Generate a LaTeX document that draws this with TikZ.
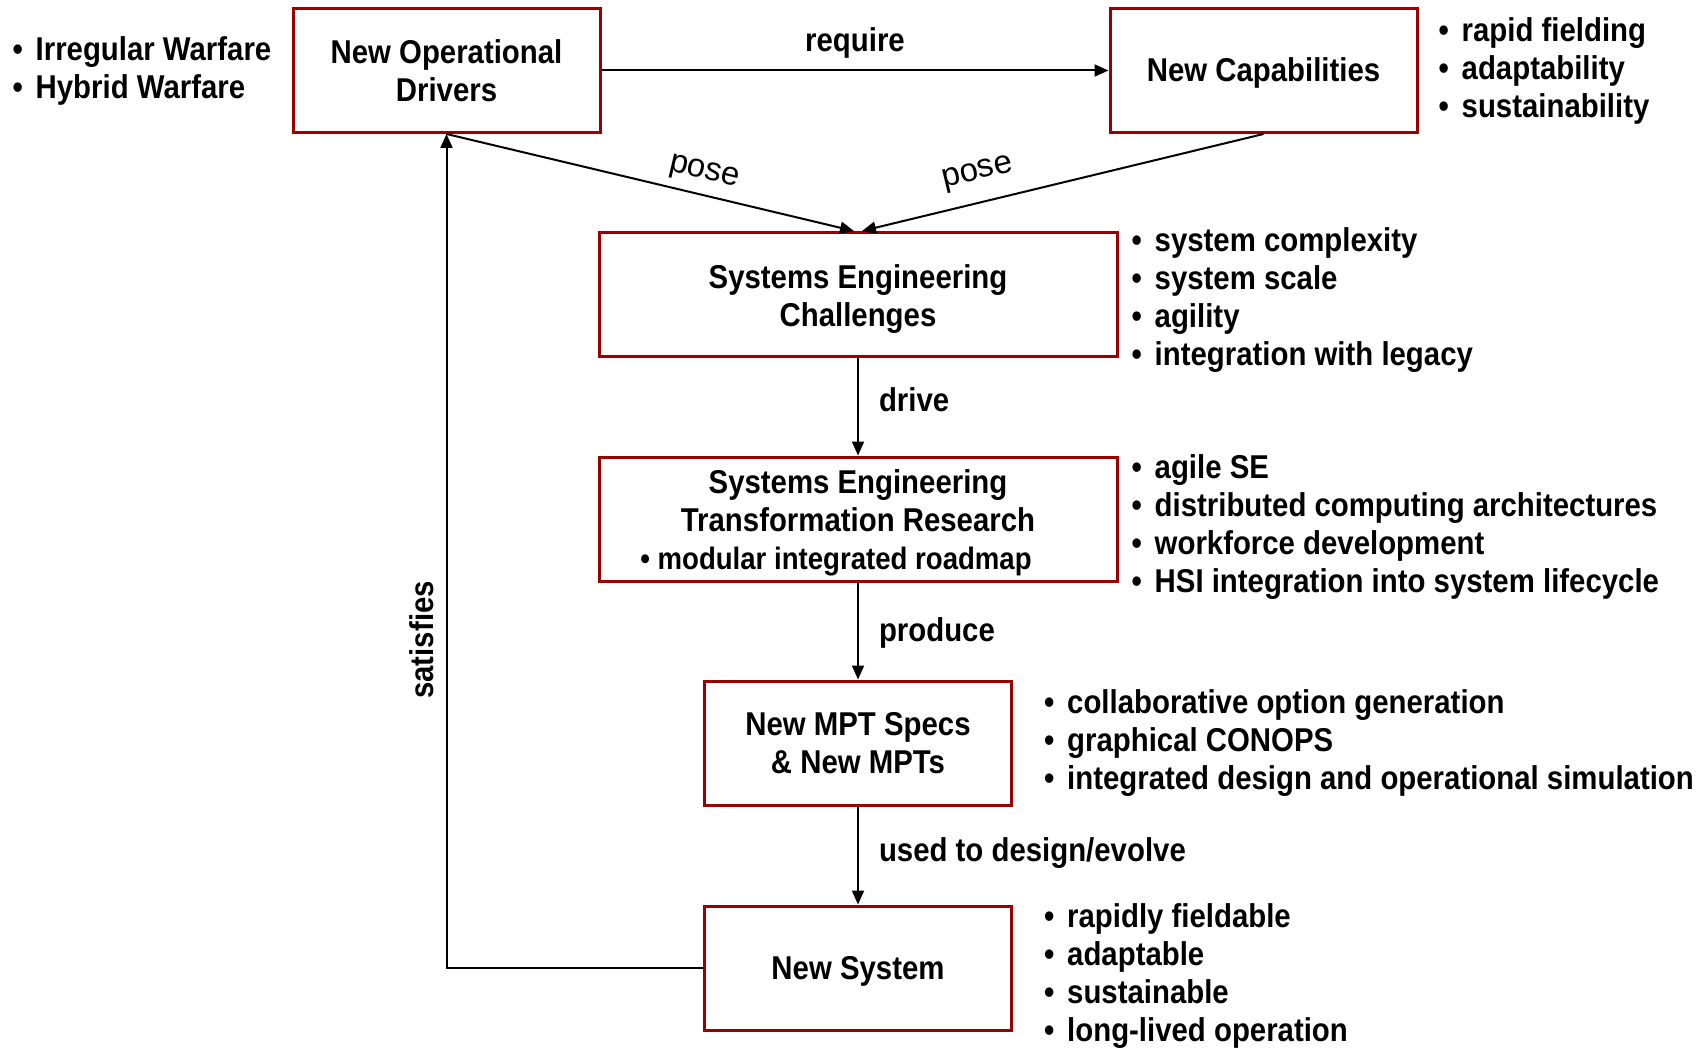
\documentclass[tikz,border=0pt]{standalone}
\usepackage{fontspec}
\setmainfont[FakeStretch=0.89]{Liberation Sans}
\newfontfamily\poselabel{Liberation Sans}
\usetikzlibrary{positioning,arrows.meta}
\definecolor{boxred}{RGB}{153,0,0}
\newcommand\bul{\makebox[20pt][l]{\kern-3pt•}}
\newcommand\tall{\rule{0pt}{32pt}}
\tikzset{
  box/.style={draw=boxred, line width=3pt, minimum width=307pt, minimum height=124pt, align=center, inner sep=0pt,
    execute at begin node={\rule{0pt}{29pt}}},
  widebox/.style={box, minimum width=518pt},
  bullets/.style={align=left, inner sep=0pt},
  link/.style={line width=2pt, -{Triangle[length=14pt,width=12pt]}},
  lbl/.style={inner sep=0pt},
  poselbl/.style={lbl, sloped, font=\fontsize{33}{38}\selectfont\poselabel\mdseries}
}
\begin{document}
\begin{tikzpicture}[x=1pt, y=-1pt, font=\fontsize{33}{38}\selectfont\bfseries]
    \useasboundingbox (0,0) rectangle (1708,1048);

    \node[box] (drivers) at (446.5,70.5) {New Operational\\Drivers};
    \node[box] (caps) at (1263.5,70.5) {New Capabilities};
    \node[widebox] (challenges) at (858,294.5) {\tall Systems Engineering\\Challenges};
    \node[widebox] (research) at (858,519) {\tall Systems Engineering\\Transformation Research\\{\fontsize{31}{38}\selectfont • modular integrated roadmap\hspace{44pt}\mbox{}}};
    \node[box] (specs) at (858,743) {New MPT Specs\\\& New MPTs};
    \node[box] (system) at (858,968) {New System};

    \node[bullets, left=20pt of drivers] (warfare) {\bul Irregular Warfare\\\bul Hybrid Warfare};
    \node[bullets, right=23pt of caps] (capslist) {\bul rapid fielding\\\bul adaptability\\\bul sustainability};
    \node[bullets, right=16pt of challenges, yshift=-6pt] (challengeslist) {\bul system complexity\\\bul system scale\\\bul agility\\\bul integration with legacy};
    \node[bullets, right=16pt of research, yshift=-8pt] (researchlist) {\bul agile SE\\\bul distributed computing architectures\\\bul workforce development\\\bul HSI integration into system lifecycle};
    \node[bullets, right=34pt of specs] (specslist) {\bul collaborative option generation\\\bul graphical CONOPS\\\bul integrated design and operational simulation};
    \node[bullets, right=34pt of system, yshift=-8pt] (systemlist) {\bul rapidly fieldable\\\bul adaptable\\\bul sustainable\\\bul long-lived operation};

    \draw[link] (drivers) -- node[lbl, above=11pt] {require} (caps);
    \draw[link] (drivers.south) -- node[poselbl, above=8pt, pos=0.62] {pose} ([xshift=-4pt]challenges.north);
    \draw[link] (caps.south) -- node[poselbl, above=15pt, pos=0.695] {pose} ([xshift=4pt]challenges.north);
    \draw[link] (challenges) -- node[lbl, right=20pt, pos=0.43] {drive} (research);
    \draw[link] (research) -- node[lbl, right=20pt, pos=0.52] {produce} (specs);
    \draw[link] (specs) -- node[lbl, right=20pt, pos=0.47] {used to design/evolve} (system);
    \draw[link] (system.west) -| node[lbl, sloped, above=12pt, pos=0.6967] {satisfies} (drivers.south);
\end{tikzpicture}
\end{document}
